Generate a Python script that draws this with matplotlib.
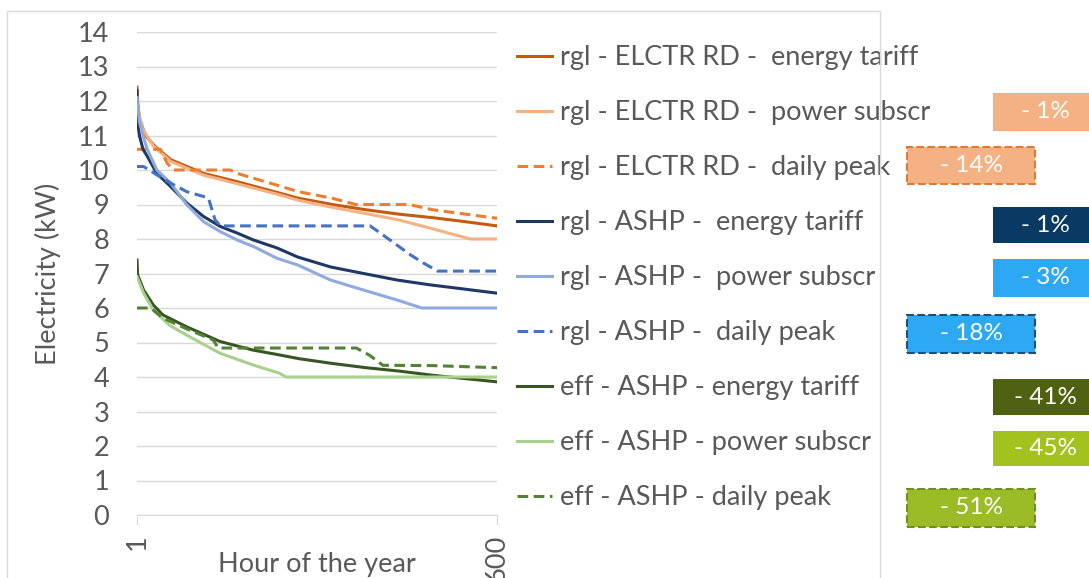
import matplotlib
matplotlib.use('Agg')
import matplotlib.pyplot as plt
from matplotlib.patches import Rectangle

plt.rcParams['font.family'] = ['Lato', 'DejaVu Sans']

# --- data (hour of the year, kW) ---
elctr_energy_h = [1, 2, 5, 15, 30, 57, 112, 168, 234, 270, 326, 381, 437, 492, 548, 600]
elctr_energy_kw = [12.4, 12.0, 11.5, 11.0, 10.7, 10.3, 9.9, 9.66, 9.35, 9.18, 9.0, 8.85, 8.72, 8.62, 8.5, 8.38]

elctr_power_h = [1, 3, 10, 28, 57, 112, 168, 234, 270, 326, 381, 437, 492, 530, 556, 600]
elctr_power_kw = [12.1, 11.7, 11.2, 10.7, 10.25, 9.85, 9.6, 9.3, 9.12, 8.92, 8.74, 8.55, 8.3, 8.12, 8.0, 8.0]

elctr_peak_h = [1, 40, 51, 62, 156, 168, 195, 234, 270, 326, 365, 454, 492, 548, 600]
elctr_peak_kw = [10.6, 10.6, 10.2, 10.0, 10.0, 9.9, 9.76, 9.56, 9.37, 9.18, 9.0, 9.0, 8.85, 8.72, 8.6]

ashp_energy_h = [1, 2, 5, 11, 18, 34, 57, 84, 112, 140, 168, 195, 234, 268, 323, 378, 434, 489, 545, 600]
ashp_energy_kw = [12.3, 11.4, 11.0, 10.6, 10.4, 9.9, 9.52, 9.04, 8.65, 8.36, 8.17, 7.97, 7.74, 7.48, 7.19, 7.0, 6.81, 6.67, 6.55, 6.43]

ashp_power_h = [1, 5, 11, 18, 34, 57, 84, 112, 140, 168, 195, 234, 268, 323, 378, 434, 475, 600]
ashp_power_kw = [12.1, 11.4, 11.0, 10.6, 10.0, 9.62, 8.99, 8.5, 8.21, 7.97, 7.78, 7.44, 7.25, 6.81, 6.52, 6.23, 6.0, 6.0]

ashp_peak_h = [1, 12, 34, 57, 84, 112, 120, 131, 140, 389, 422, 456, 478, 501, 600]
ashp_peak_kw = [10.1, 10.1, 9.86, 9.62, 9.37, 9.23, 9.18, 8.55, 8.38, 8.38, 7.97, 7.54, 7.3, 7.07, 7.07]

eff_energy_h = [1, 2, 12, 28, 44, 83, 139, 194, 238, 271, 327, 382, 438, 493, 549, 600]
eff_energy_kw = [7.39, 6.96, 6.52, 6.09, 5.8, 5.46, 5.03, 4.78, 4.64, 4.53, 4.39, 4.27, 4.17, 4.05, 3.95, 3.86]

eff_power_h = [1, 12, 28, 55, 83, 139, 194, 238, 249, 600]
eff_power_kw = [6.91, 6.43, 5.94, 5.5, 5.22, 4.69, 4.35, 4.11, 4.0, 4.0]

eff_peak_h = [1, 24, 44, 83, 128, 136, 366, 388, 410, 493, 600]
eff_peak_kw = [6.0, 6.0, 5.71, 5.4, 5.07, 4.84, 4.84, 4.63, 4.34, 4.33, 4.27]

labels = ['rgl - ELCTR RD -  energy tariff', 'rgl - ELCTR RD -  power subscr',
          'rgl - ELCTR RD -  daily peak', 'rgl - ASHP -  energy tariff',
          'rgl - ASHP -  power subscr', 'rgl - ASHP -  daily peak',
          'eff - ASHP - energy tariff', 'eff - ASHP - power subscr',
          'eff - ASHP - daily peak']

badge_labels = ['- 1%', '- 14%', '- 1%', '- 3%', '- 18%', '- 41%', '- 45%', '- 51%']

# --- styles ---
colors = ['#C55A11', '#F4B183', '#ED7D31', '#203864', '#8FAADC', '#4472C4',
          '#375623', '#A9D18E', '#548235']
dashed = [False, False, True, False, False, True, False, False, True]
badge_fill = ['#F4B183', '#F4B183', '#083A64', '#2DA9F3', '#2DA9F3', '#4F6212', '#A3C21D', '#9CBC27']
badge_edge = [None, '#E07A2E', None, None, '#1F4E79', None, None, '#6F8F1E']
# badge boxes in pixels: left, top, width, height
badge_box = [(993, 93, 110, 38), (907, 147, 128, 37), (993, 207, 110, 36), (993, 259, 110, 38),
             (907, 315, 128, 38), (993, 379, 110, 36), (993, 431, 110, 35), (907, 489, 128, 38)]

series = [(elctr_energy_h, elctr_energy_kw), (elctr_power_h, elctr_power_kw), (elctr_peak_h, elctr_peak_kw),
          (ashp_energy_h, ashp_energy_kw), (ashp_power_h, ashp_power_kw), (ashp_peak_h, ashp_peak_kw),
          (eff_energy_h, eff_energy_kw), (eff_power_h, eff_power_kw), (eff_peak_h, eff_peak_kw)]

W, H = 1089, 578
grey = '#595959'
fs = 19.5

fig = plt.figure(figsize=(W / 100, H / 100), dpi=100)
ax = fig.add_axes([137 / W, 1 - 515 / H, (497 - 137) / W, (515 - 32) / H])

# chart border
fig.patches.append(Rectangle((7 / W, -0.05), (880 - 7) / W, 1.05 - 11 / H, transform=fig.transFigure,
                             fill=False, edgecolor='#D9D9D9', linewidth=1))

handles = []
for (x, y), c, d, lab in zip(series, colors, dashed, labels):
    if d:
        ln, = ax.plot(x, y, color=c, lw=2.2, dashes=(3.5, 1.8), label=lab)
    else:
        ln, = ax.plot(x, y, color=c, lw=2.2, label=lab)
    handles.append(ln)

ax.set_xlim(1, 600)
ax.set_ylim(0, 14)
ax.set_yticks(range(0, 15))
ax.set_xticks([1, 600])
ax.set_xticklabels(['1', '600'], rotation=90)
ax.grid(axis='y', color='#D9D9D9', lw=1)
ax.set_axisbelow(True)
for s in ['left', 'right', 'top']:
    ax.spines[s].set_visible(False)
ax.spines['bottom'].set_color('#D9D9D9')
ax.tick_params(axis='y', length=0, pad=20, labelsize=fs, labelcolor=grey)
ax.tick_params(axis='x', length=7, color='#D9D9D9', pad=7, labelsize=fs, labelcolor=grey)
ax.set_ylabel('Electricity (kW)', fontsize=fs, color=grey, labelpad=12)
fig.text(317 / W, 1 - 577 / H, 'Hour of the year', fontsize=fs, color=grey,
         ha='center', va='bottom')

leg = ax.legend(handles=handles, loc='upper left', bbox_to_anchor=(517 / W, 1 - 45 / H),
                bbox_transform=fig.transFigure, frameon=False, fontsize=fs,
                handlelength=1.3, handletextpad=0.3, labelspacing=1.11,
                borderpad=0, borderaxespad=0)
for t in leg.get_texts():
    t.set_color(grey)

for lab, fc, ec, (bx, by, bw, bh) in zip(badge_labels, badge_fill, badge_edge, badge_box):
    rect = Rectangle((bx / W, 1 - (by + bh) / H), bw / W, bh / H, transform=fig.transFigure,
                     facecolor=fc, edgecolor=ec if ec else fc, linewidth=1.5 if ec else 0,
                     linestyle='--' if ec else '-', clip_on=False)
    fig.patches.append(rect)
    cx = bx + 64 if bw == 128 else bx + 52
    fig.text(cx / W, 1 - (by + bh / 2) / H, lab, color='white', fontsize=17.5,
             ha='center', va='center')

fig.savefig('out.png', dpi=100)
